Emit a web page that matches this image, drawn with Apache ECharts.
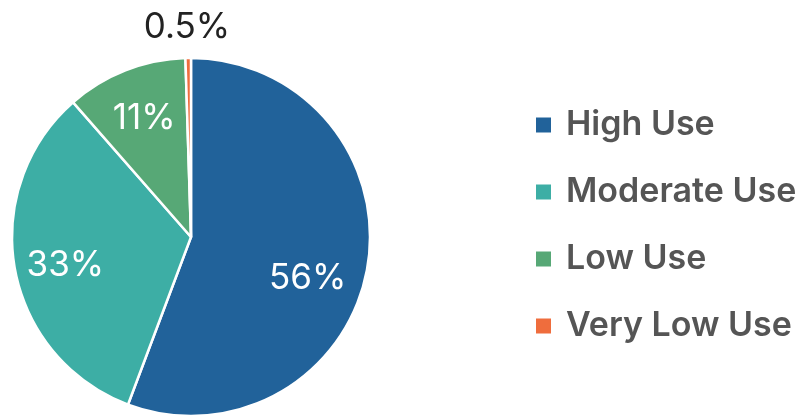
<!DOCTYPE html>
<html><head><meta charset="utf-8">
<script src="https://cdn.jsdelivr.net/npm/echarts@6/dist/echarts.min.js"></script>
<style>html,body{margin:0;padding:0;background:#fff}#c{width:804px;height:416px}</style>
</head><body><div id="c"></div>
<script>
const categories = ['High Use', 'Moderate Use', 'Low Use', 'Very Low Use'];
const values = [56, 33, 11, 0.5];
const colors = ['#21629a', '#3daea5', '#57a876', '#ef6d3d'];

const CX = 191, CY = 237, R = 179;
const FONT = 'Inter';
const labelShift = [[-9, 19], [0, 6], [0, 0], [0, 0]];
const chart = echarts.init(document.getElementById('c'), null, {renderer: 'canvas'});
chart.setOption({
  animation: false,
  color: colors,
  legend: {
    orient: 'vertical',
    left: 534, top: 108, padding: 0,
    icon: 'rect', itemWidth: 17, itemHeight: 17, itemGap: 33,
    textStyle: {fontFamily: FONT, fontSize: 34, lineHeight: 34, fontWeight: 600, color: '#555555', padding: [0, 0, 0, 9]},
    data: categories
  },
  series: [{
    type: 'pie',
    center: [CX, CY], radius: R,
    startAngle: 90, clockwise: true,
    itemStyle: {borderColor: '#ffffff', borderWidth: 2.5},
    label: {position: 'inside', fontFamily: FONT, fontSize: 35, fontWeight: 400, color: '#ffffff',
      formatter: p => p.value + '%'},
    labelLayout: function (p) {
      const r = p.labelRect;
      const lx = r.x + r.width / 2, ly = r.y + r.height / 2;
      if (p.dataIndex === 3) {
        return {x: CX - 4, y: CY - R - 31, align: 'center', verticalAlign: 'middle'};
      }
      const k = 1.38;
      const s = labelShift[p.dataIndex];
      return {x: CX + (lx - CX) * k + s[0], y: CY + (ly - CY) * k + s[1]};
    },
    labelLine: {show: false},
    data: categories.map((n, i) => {
      const d = {name: n, value: values[i]};
      if (i === 3) d.label = {position: 'outside', color: '#222222'};
      return d;
    })
  }]
});
</script></body></html>
